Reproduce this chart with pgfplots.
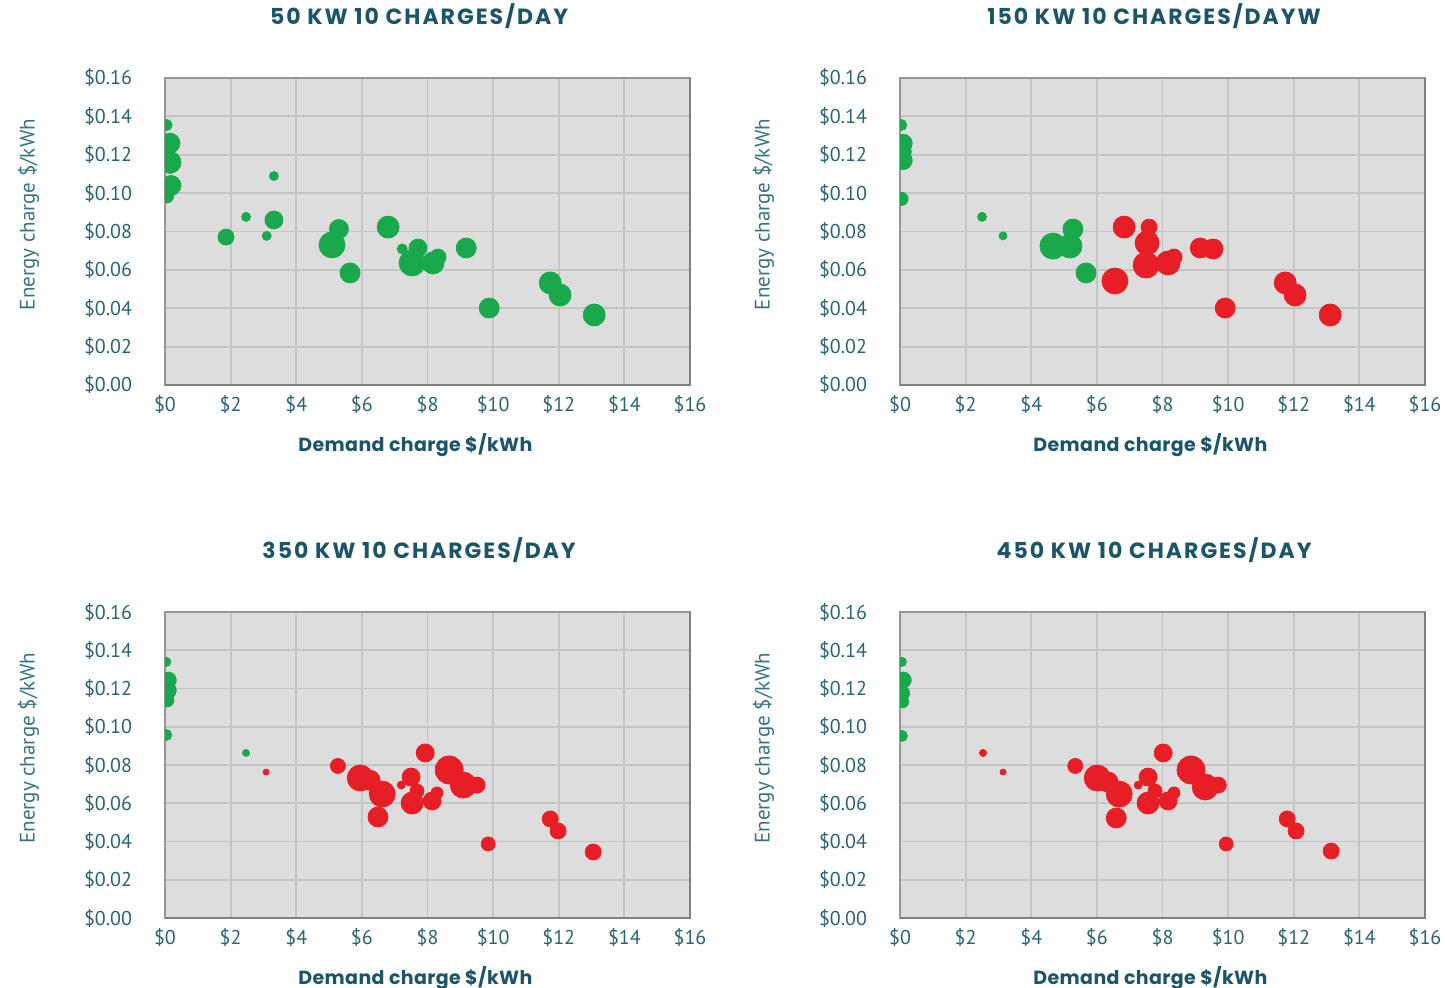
\documentclass[border=0pt]{standalone}
\usepackage{fontspec}
\usepackage{pgfplots}
\usepackage{pgfplotstable}
\pgfplotsset{compat=1.18}
\setmainfont{PT Sans}
\newfontfamily\headfont{Poppins}[LetterSpace=9]
\newfontfamily\labfont{Poppins}[LetterSpace=2]

\definecolor{bgreen}{RGB}{25,168,75}
\definecolor{bred}{RGB}{232,30,38}
\definecolor{panelbg}{RGB}{221,221,221}
\definecolor{gridc}{RGB}{196,196,196}
\definecolor{framec}{RGB}{150,150,150}
\definecolor{titlec}{RGB}{28,84,104}
\definecolor{tickc}{RGB}{40,100,115}
\definecolor{ylabc}{RGB}{55,115,130}

% x = demand charge, y = energy charge, r = bubble radius (px of the original)
\pgfplotstableread{
x y r
0.05 0.1355 5.5
0.15 0.126 10
0.15 0.116 11
0.18 0.104 10
0.05 0.0985 7
1.86 0.0771 8
2.47 0.0876 4.5
3.32 0.1089 4.5
3.32 0.0860 9
3.10 0.0777 4.5
5.09 0.0730 13
5.30 0.0813 9.5
5.64 0.0584 10
6.80 0.0823 11
7.23 0.0709 5
7.71 0.0714 9
7.53 0.0636 13
8.17 0.0636 11
8.32 0.0667 8
9.18 0.0714 10
9.88 0.0401 10
11.74 0.0532 11
12.04 0.0469 11
13.08 0.0365 11
}\fiftyG

\pgfplotstableread{
x y r
0.04 0.1355 5.5
0.10 0.1260 9
0.10 0.1215 8
0.10 0.1170 9
0.05 0.0970 6.5
2.50 0.0876 4.5
3.14 0.0777 4
4.66 0.0724 13
5.18 0.0724 12
5.27 0.0813 10
5.67 0.0584 10
}\hundredG
\pgfplotstableread{
x y r
6.83 0.0823 11
6.55 0.0542 13
7.59 0.0823 8
7.53 0.0740 12
7.50 0.0625 13
8.17 0.0636 12
8.35 0.0667 8
9.15 0.0714 10
9.54 0.0709 10
9.91 0.0401 10
11.74 0.0532 11
12.04 0.0469 11
13.11 0.0365 11
}\hundredR

\pgfplotstableread{
x y r
0.04 0.1339 4.5
0.10 0.1244 8
0.10 0.1190 8
0.06 0.1140 7
0.04 0.0957 5.5
2.47 0.0863 3.5
}\threeG
\pgfplotstableread{
x y r
3.08 0.0763 3
5.27 0.0795 7.5
5.95 0.0732 13
6.25 0.0720 10
6.62 0.0648 13
6.49 0.0528 10
7.20 0.0695 4
7.50 0.0737 9
7.68 0.0664 7
7.53 0.0601 11
7.93 0.0863 9
8.14 0.0612 9
8.29 0.0654 6
8.66 0.0774 14
9.09 0.0695 13
9.51 0.0695 8
9.85 0.0387 7
11.74 0.0518 8
11.98 0.0455 8
13.05 0.0345 8
}\threeR

\pgfplotstableread{
x y r
0.06 0.1339 4.5
0.10 0.1244 8
0.08 0.1176 7
0.08 0.1130 6
0.06 0.0952 5.5
}\fourG
\pgfplotstableread{
x y r
2.53 0.0863 3.5
3.14 0.0763 3
5.34 0.0795 7.5
6.01 0.0732 13
6.34 0.0711 10
6.68 0.0648 13
6.59 0.0523 10
7.26 0.0695 4
7.56 0.0737 9
7.77 0.0664 7
7.56 0.0601 11
8.02 0.0863 9
8.17 0.0612 9
8.35 0.0654 6
8.87 0.0774 14
9.30 0.0685 13
9.70 0.0695 8
9.94 0.0387 7
11.80 0.0518 8
12.07 0.0455 8
13.14 0.0350 8
}\fourR

\pgfplotsset{
  panel/.style={
    scale only axis, width=262.5pt, height=153.5pt,
    xmin=0, xmax=16, ymin=0, ymax=0.16,
    clip marker paths=true,
    xtick={0,2,4,6,8,10,12,14,16},
    ytick={0,0.02,0.04,0.06,0.08,0.10,0.12,0.14,0.16},
    xticklabels={\$0,\$2,\$4,\$6,\$8,\$10,\$12,\$14,\$16},
    yticklabels={\$0.00,\$0.02,\$0.04,\$0.06,\$0.08,\$0.10,\$0.12,\$0.14,\$0.16},
    major tick length=0pt,
    grid=major, major grid style={draw=gridc, line width=0.9pt},
    axis background/.style={fill=panelbg},
    axis line style={draw=framec, line width=0.8pt},
    tick label style={font=\fontsize{10}{12}\selectfont, text=tickc},
    yticklabel style={anchor=east, xshift=-13pt},
    xticklabel style={yshift=-1.5pt},
    title style={at={(axis description cs:0.484,1.164)}, anchor=center,
      font=\headfont\bfseries\fontsize{11}{13}\selectfont, text=titlec},
    xlabel style={at={(axis description cs:0.477,-0.195)}, anchor=center,
      font=\labfont\bfseries\fontsize{9.5}{11}\selectfont, text=titlec},
    ylabel style={at={(axis description cs:-0.26,0.555)}, anchor=center,
      font=\fontsize{10.5}{12}\selectfont, text=ylabc},
    xlabel={Demand charge \$/kWh},
    ylabel={Energy charge \$/kWh},
  },
  bubble/.style={scatter, only marks, mark=*,
    scatter/use mapped color={draw=#1, fill=#1},
    visualization depends on={0.5*\thisrow{r}\as\msize},
    scatter/@pre marker code/.append style={/tikz/mark size=\msize}},
}

\begin{document}
\begin{tikzpicture}
\useasboundingbox (0,0) rectangle (722.5pt,-494pt);

\begin{axis}[panel, name=tl, at={(82.5pt,-192.5pt)}, anchor=south west,
  title={50 KW 10 CHARGES/DAY}]
  \addplot[bubble=bgreen] table {\fiftyG};
\end{axis}

\begin{axis}[panel, name=tr, at={(450pt,-192.5pt)}, anchor=south west,
  title={150 KW 10 CHARGES/DAYW}]
  \addplot[bubble=bgreen] table {\hundredG};
  \addplot[bubble=bred] table {\hundredR};
\end{axis}

\begin{axis}[panel, name=bl, at={(82.5pt,-459pt)}, anchor=south west, height=153pt,
  title={350 KW 10 CHARGES/DAY}]
  \addplot[bubble=bgreen] table {\threeG};
  \addplot[bubble=bred] table {\threeR};
\end{axis}

\begin{axis}[panel, name=br, at={(450pt,-459pt)}, anchor=south west, height=153pt,
  title={450 KW 10 CHARGES/DAY}]
  \addplot[bubble=bgreen] table {\fourG};
  \addplot[bubble=bred] table {\fourR};
\end{axis}

% darker right and bottom edge of each panel
\foreach \p in {tl,tr,bl,br}{
  \draw[framec!85!black, line width=1.3pt] (\p.north east) -- (\p.south east) -- (\p.south west);
}
\end{tikzpicture}
\end{document}
